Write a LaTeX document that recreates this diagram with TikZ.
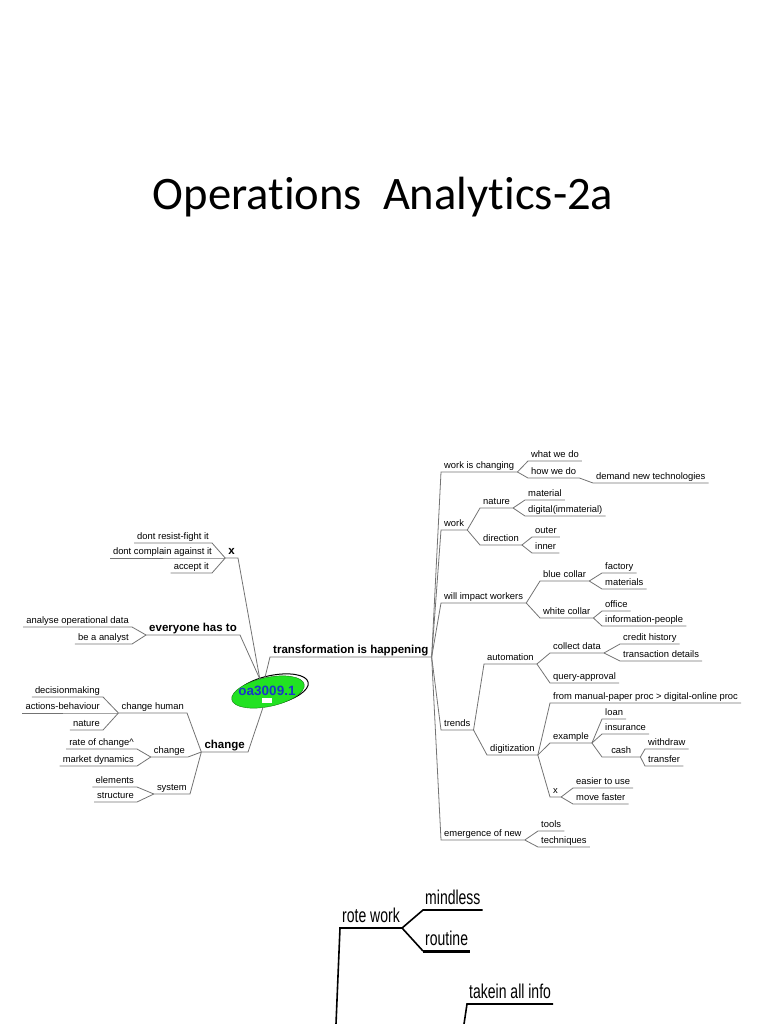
\documentclass[tikz,border=0pt]{standalone}
\usepackage{fontspec}
\setmainfont{Liberation Sans}
\newfontfamily\titlefont[Ligatures=NoCommon]{Carlito}
\usetikzlibrary{shapes.geometric}
\definecolor{linkgray}{RGB}{115,115,115}
\definecolor{hubgreen}{RGB}{34,226,34}
\definecolor{hubblue}{RGB}{25,55,200}
\tikzset{
  topic/.style={font=\fontsize{9.4}{11}\selectfont, inner xsep=3pt, inner ysep=1pt, text height=7pt, text depth=2pt},
  main/.style={topic, font=\fontsize{11.5}{13}\selectfont\bfseries, text height=8.5pt, text depth=2.5pt},
  link/.style={draw=linkgray, line width=0.8pt},
  big/.style={font=\fontsize{20}{22}\selectfont, xscale=0.7, inner xsep=3pt, inner ysep=1.5pt, text height=15pt, text depth=4pt},
  heavy/.style={draw=black, line width=1.6pt},
  hubshape/.style={ellipse, minimum width=74pt, minimum height=29pt, inner sep=0pt, rotate=12}
}
\begin{document}
\begin{tikzpicture}[x=1pt,y=-1pt]
\useasboundingbox (0,0) rectangle (768,1024);
\node[anchor=base, font=\titlefont\fontsize{46.6}{50}\selectfont] (title) at (383,210) {Operations\ \ Analytics-2a};

\node[hubshape, draw=black, line width=1pt] (hubring) at (272,690) {};
\node[hubshape, draw=hubgreen!55!black, fill=hubgreen] (hub) at (268,692) {};
\node[fill=white, minimum width=10pt, minimum height=5pt, inner sep=0pt] (hubtag) at (267,700) {};
\node[font=\fontsize{13.5}{15}\selectfont\bfseries, text=hubblue, inner sep=0pt] (hubtext) at (267,691) {oa3009.1};

\node[main, anchor=south west] (trans) at (270,657) {transformation is happening};
\node[topic, anchor=south west] (wchg) at (441,472) {work is changing};
\node[topic, anchor=south west] (what) at (528,461) {what we do};
\node[topic, anchor=south west] (how) at (528,478) {how we do};
\node[topic, anchor=south west] (demand) at (593,483) {demand new technologies};
\node[topic, anchor=south west] (work) at (441,530) {work};
\node[topic, anchor=south west] (nature) at (480,508) {nature};
\node[topic, anchor=south west] (material) at (525,500) {material};
\node[topic, anchor=south west] (digital) at (525,516) {digital(immaterial)};
\node[topic, anchor=south west] (direction) at (480,545) {direction};
\node[topic, anchor=south west] (outer) at (532,537) {outer};
\node[topic, anchor=south west] (inner) at (532,553) {inner};
\node[topic, anchor=south west] (impact) at (441,603) {will impact workers};
\node[topic, anchor=south west] (blue) at (540,581) {blue collar};
\node[topic, anchor=south west] (factory) at (602,573) {factory};
\node[topic, anchor=south west] (materials) at (602,589) {materials};
\node[topic, anchor=south west] (white) at (540,618) {white collar};
\node[topic, anchor=south west] (office) at (602,611) {office};
\node[topic, anchor=south west] (infopeople) at (602,626) {information-people};
\node[topic, anchor=south west] (trends) at (441,730) {trends};
\node[topic, anchor=south west] (auto) at (484,664) {automation};
\node[topic, anchor=south west] (collect) at (550,653) {collect data};
\node[topic, anchor=south west] (credit) at (620,644) {credit history};
\node[topic, anchor=south west] (details) at (620,661) {transaction details};
\node[topic, anchor=south west] (query) at (550,683) {query-approval};
\node[topic, anchor=south west] (digit) at (487,755) {digitization};
\node[topic, anchor=south west] (manual) at (550,703) {from manual-paper proc > digital-online proc};
\node[topic, anchor=south west] (example) at (550,743) {example};
\node[topic, anchor=south west] (loan) at (602,719) {loan};
\node[topic, anchor=south west] (insur) at (602,734) {insurance};
\node[topic, anchor=south west, minimum width=38pt] (cash) at (602,757) {cash};
\node[topic, anchor=south west] (withdraw) at (645,749) {withdraw};
\node[topic, anchor=south west] (transfer) at (645,766) {transfer};
\node[topic, anchor=south west] (dx) at (550,797) {x};
\node[topic, anchor=south west] (easier) at (573,788) {easier to use};
\node[topic, anchor=south west] (faster) at (573,804) {move faster};
\node[topic, anchor=south west] (emerg) at (441,840) {emergence of new};
\node[topic, anchor=south west] (tools) at (538,831) {tools};
\node[topic, anchor=south west] (techn) at (538,847) {techniques};

\node[main, anchor=south east] (xb) at (238,558) {x};
\node[topic, anchor=south east] (resist) at (212,543) {dont resist-fight it};
\node[topic, anchor=south east] (complain) at (215,558) {dont complain against it};
\node[topic, anchor=south east] (accept) at (212,573) {accept it};
\node[main, anchor=south east] (every) at (240,635) {everyone has to};
\node[topic, anchor=south east] (analyse) at (132,627) {analyse operational data};
\node[topic, anchor=south east] (analyst) at (132,644) {be a analyst};
\node[main, anchor=south east] (chg) at (248,752) {change};
\node[topic, anchor=south east] (human) at (187,713) {change human};
\node[topic, anchor=south east] (decision) at (103,697) {decisionmaking};
\node[topic, anchor=south east] (actions) at (103,713) {actions-behaviour};
\node[topic, anchor=south east] (hnature) at (103,730) {nature};
\node[topic, anchor=south east] (chgsub) at (188,757) {change};
\node[topic, anchor=south east] (rate) at (137,749) {rate of change\textasciicircum};
\node[topic, anchor=south east] (market) at (137,766) {market dynamics};
\node[topic, anchor=south east] (system) at (190,794) {system};
\node[topic, anchor=south east] (elements) at (137,787) {elements};
\node[topic, anchor=south east] (structure) at (137,802) {structure};

\draw[link] (hub.north) -- (trans.south west) -- (trans.south east);
\draw[link] (trans.south east) -- (wchg.south west) -- (wchg.south east);
\draw[link] (wchg.south east) -- (what.south west) -- (what.south east);
\draw[link] (wchg.south east) -- (how.south west) -- (how.south east);
\draw[link] (how.south east) -- (demand.south west) -- (demand.south east);
\draw[link] (trans.south east) -- (work.south west) -- (work.south east);
\draw[link] (work.south east) -- (nature.south west) -- (nature.south east);
\draw[link] (nature.south east) -- (material.south west) -- (material.south east);
\draw[link] (nature.south east) -- (digital.south west) -- (digital.south east);
\draw[link] (work.south east) -- (direction.south west) -- (direction.south east);
\draw[link] (direction.south east) -- (outer.south west) -- (outer.south east);
\draw[link] (direction.south east) -- (inner.south west) -- (inner.south east);
\draw[link] (trans.south east) -- (impact.south west) -- (impact.south east);
\draw[link] (impact.south east) -- (blue.south west) -- (blue.south east);
\draw[link] (blue.south east) -- (factory.south west) -- (factory.south east);
\draw[link] (blue.south east) -- (materials.south west) -- (materials.south east);
\draw[link] (impact.south east) -- (white.south west) -- (white.south east);
\draw[link] (white.south east) -- (office.south west) -- (office.south east);
\draw[link] (white.south east) -- (infopeople.south west) -- (infopeople.south east);
\draw[link] (trans.south east) -- (trends.south west) -- (trends.south east);
\draw[link] (trends.south east) -- (auto.south west) -- (auto.south east);
\draw[link] (auto.south east) -- (collect.south west) -- (collect.south east);
\draw[link] (collect.south east) -- (credit.south west) -- (credit.south east);
\draw[link] (collect.south east) -- (details.south west) -- (details.south east);
\draw[link] (auto.south east) -- (query.south west) -- (query.south east);
\draw[link] (trends.south east) -- (digit.south west) -- (digit.south east);
\draw[link] (digit.south east) -- (manual.south west) -- (manual.south east);
\draw[link] (digit.south east) -- (example.south west) -- (example.south east);
\draw[link] (example.south east) -- (loan.south west) -- (loan.south east);
\draw[link] (example.south east) -- (insur.south west) -- (insur.south east);
\draw[link] (example.south east) -- (cash.south west) -- (cash.south east);
\draw[link] (cash.south east) -- (withdraw.south west) -- (withdraw.south east);
\draw[link] (cash.south east) -- (transfer.south west) -- (transfer.south east);
\draw[link] (digit.south east) -- (dx.south west) -- (dx.south east);
\draw[link] (dx.south east) -- (easier.south west) -- (easier.south east);
\draw[link] (dx.south east) -- (faster.south west) -- (faster.south east);
\draw[link] (trans.south east) -- (emerg.south west) -- (emerg.south east);
\draw[link] (emerg.south east) -- (tools.south west) -- (tools.south east);
\draw[link] (emerg.south east) -- (techn.south west) -- (techn.south east);

\draw[link] (hub.110) -- (xb.south east) -- (xb.south west);
\draw[link] (xb.south west) -- (resist.south east) -- (resist.south west);
\draw[link] (xb.south west) -- (complain.south east) -- (complain.south west);
\draw[link] (xb.south west) -- (accept.south east) -- (accept.south west);
\draw[link] (hub.110) -- (every.south east) -- (every.south west);
\draw[link] (every.south west) -- (analyse.south east) -- (analyse.south west);
\draw[link] (every.south west) -- (analyst.south east) -- (analyst.south west);
\draw[link] (hub.240) -- (chg.south east) -- (chg.south west);
\draw[link] (chg.south west) -- (human.south east) -- (human.south west);
\draw[link] (human.south west) -- (decision.south east) -- (decision.south west);
\draw[link] (human.south west) -- (actions.south east) -- (actions.south west);
\draw[link] (human.south west) -- (hnature.south east) -- (hnature.south west);
\draw[link] (chg.south west) -- (chgsub.south east) -- (chgsub.south west);
\draw[link] (chgsub.south west) -- (rate.south east) -- (rate.south west);
\draw[link] (chgsub.south west) -- (market.south east) -- (market.south west);
\draw[link] (chg.south west) -- (system.south east) -- (system.south west);
\draw[link] (system.south west) -- (elements.south east) -- (elements.south west);
\draw[link] (system.south west) -- (structure.south east) -- (structure.south west);

\coordinate (rotefoot) at (336,1024);
\coordinate (takefoot) at (464,1024);
\node[big, anchor=south west] (rote) at (340,928) {rote work};
\node[big, anchor=south west] (mindless) at (423,910) {mindless};
\node[big, anchor=south west] (routine) at (423,951) {routine};
\node[big, anchor=south west] (takein) at (467,1004) {takein all info};
\draw[heavy] (rotefoot) -- (rote.south west) -- (rote.south east);
\draw[heavy] (rote.south east) -- (mindless.south west) -- (mindless.south east);
\draw[heavy] (rote.south east) -- (routine.south west);
\draw[heavy, line width=3pt] (routine.south west) -- (routine.south east);
\draw[heavy] (takefoot) -- (takein.south west) -- (takein.south east);
\end{tikzpicture}
\end{document}
